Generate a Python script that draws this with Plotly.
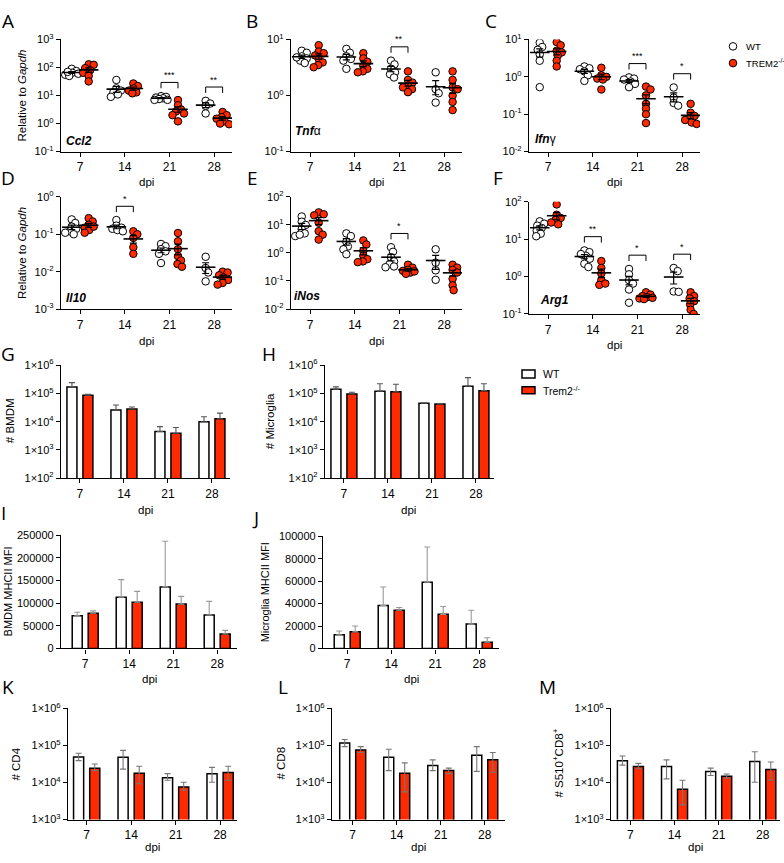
import numpy as np
import plotly.graph_objects as go

W, H = 784, 863
DPI_LABELS = ['7', '14', '21', '28']
RED = '#FF2A00'
FONT = 'Liberation Sans, Arial, sans-serif'
LFONT = 'Open Sans, sans-serif'

# ---------------- qPCR data (relative to Gapdh), per dpi group ----------------
ccl2_wt = [[90, 75, 65, 60, 55, 50, 70], [36, 18, 15, 13, 11, 9], [9.5, 9, 8.5, 8, 7.5, 7, 7], [6.5, 5.2, 4.3, 2.3]]
ccl2_ko = [[130, 125, 95, 80, 65, 50, 32], [27, 22, 18, 15, 13, 12], [6.9, 4.5, 3.2, 2.7, 2.3, 2.0, 1.2], [2.6, 2.0, 1.7, 1.5, 1.2, 1.0, 0.95]]
tnf_wt = [[6.3, 5.8, 5.0, 4.6, 4.2, 3.8, 4.8], [6.8, 5.8, 5.0, 4.5, 4.2, 3.0], [4.2, 3.6, 3.0, 2.6, 2.4, 2.1], [2.6, 1.3, 1.1, 0.75]]
tnf_ko = [[7.9, 6.1, 5.7, 5.2, 4.5, 3.9, 3.5, 3.2], [5.7, 4.6, 4.0, 3.4, 3.0, 2.7, 2.6], [2.7, 1.9, 1.7, 1.5, 1.4, 1.3, 1.15], [2.7, 1.9, 1.4, 1.3, 1.0, 0.77, 0.55]]
ifng_wt = [[8.2, 6.3, 5.3, 4.0, 2.7, 0.53], [1.9, 1.7, 1.6, 1.4, 1.1, 0.78], [0.97, 0.9, 0.85, 0.75, 0.65, 0.53], [0.52, 0.28, 0.2, 0.17]]
ifng_ko = [[8.5, 7.0, 5.0, 4.5, 3.7, 2.7, 1.9], [1.75, 1.1, 1.0, 0.9, 0.85, 0.46], [0.55, 0.46, 0.32, 0.19, 0.14, 0.1, 0.058], [0.19, 0.11, 0.09, 0.08, 0.07, 0.06, 0.055]]
il10_wt = [[0.25, 0.2, 0.16, 0.14, 0.12, 0.1, 0.11], [0.24, 0.17, 0.15, 0.14, 0.13, 0.12], [0.055, 0.048, 0.04, 0.035, 0.03, 0.017], [0.025, 0.0125, 0.0095, 0.0055]]
il10_ko = [[0.27, 0.22, 0.18, 0.15, 0.13, 0.11, 0.16], [0.12, 0.1, 0.08, 0.045, 0.03], [0.108, 0.065, 0.04, 0.026, 0.02, 0.016, 0.0135], [0.01, 0.0095, 0.008, 0.007, 0.006, 0.005, 0.0045]]
inos_wt = [[20, 13, 10, 7, 5, 4, 4.5], [5, 4, 2.5, 1.7, 1.35, 0.9], [1.6, 1.1, 0.7, 0.5, 0.4, 0.33, 0.31], [1.35, 0.45, 0.24, 0.11]]
inos_ko = [[28, 24, 22, 12, 6, 4.5, 3], [2.8, 2.0, 1.2, 0.8, 0.6, 0.5, 0.47], [0.38, 0.3, 0.25, 0.23, 0.2, 0.18, 0.22], [0.38, 0.3, 0.25, 0.2, 0.12, 0.07, 0.047]]
arg1_wt = [[30, 26, 23, 20, 17, 14, 12], [5.0, 4.5, 3.6, 3.0, 2.2, 1.8, 4.0], [1.6, 1.15, 0.8, 0.65, 0.45, 0.2], [1.7, 1.4, 0.4, 0.39]]
arg1_ko = [[85, 45, 37, 33, 25, 28], [2.6, 1.7, 1.2, 0.8, 0.6, 0.65], [0.38, 0.33, 0.3, 0.28, 0.27, 0.26, 0.25], [0.38, 0.3, 0.26, 0.22, 0.18, 0.13, 0.1]]

# significance marks: (dpi index, stars)
sig_ccl2 = [(2, '***'), (3, '**')]
sig_tnf = [(2, '**')]
sig_ifng = [(2, '***'), (3, '*')]
sig_il10 = [(1, '*')]
sig_inos = [(2, '*')]
sig_arg1 = [(1, '**'), (2, '*'), (3, '*')]

# ---------------- flow data ----------------
bmdm_wt = [1.7e5, 2.6e4, 4.5e3, 1.0e4]
bmdm_wt_err = [7e4, 1.3e4, 2.2e3, 5e3]
bmdm_ko = [8.6e4, 2.8e4, 3.9e3, 1.27e4]
bmdm_ko_err = [6e3, 5e3, 2.3e3, 7.3e3]
micro_wt = [1.4e5, 1.2e5, 4.5e4, 1.8e5]
micro_wt_err = [3e4, 1.0e5, 1.5e3, 1.8e5]
micro_ko = [9.5e4, 1.15e5, 4.2e4, 1.25e5]
micro_ko_err = [1.5e4, 9.5e4, 1.5e3, 9.5e4]
bmdm_mfi_wt = [72000, 113000, 136000, 74000]
bmdm_mfi_wt_err = [8000, 39000, 101000, 30000]
bmdm_mfi_ko = [78000, 102000, 98000, 32000]
bmdm_mfi_ko_err = [5000, 24000, 17000, 8000]
mg_mfi_wt = [12200, 38300, 59000, 21700]
mg_mfi_wt_err = [3400, 16500, 31400, 12300]
mg_mfi_ko = [14800, 34000, 30400, 5500]
mg_mfi_ko_err = [5200, 2500, 7000, 4000]

cd4_wt = [4.9e4, 4.8e4, 1.35e4, 1.74e4]
cd4_wt_hi = [6.2e4, 7.4e4, 1.74e4, 2.57e4]
cd4_wt_lo = [3.9e4, 2.3e4, 1.15e4, 1.02e4]
cd4_ko = [2.45e4, 1.78e4, 7.6e3, 1.86e4]
cd4_ko_hi = [3.16e4, 2.75e4, 1.02e4, 2.75e4]
cd4_ko_lo = [2.1e4, 9.3e3, 6.2e3, 1.15e4]
cd8_wt = [1.17e5, 4.8e4, 2.9e4, 5.5e4]
cd8_wt_hi = [1.45e5, 7.9e4, 4.1e4, 9.3e4]
cd8_wt_lo = [9.3e4, 2.1e4, 2.1e4, 2.0e4]
cd8_ko = [7.6e4, 1.78e4, 2.1e4, 4.1e4]
cd8_ko_hi = [9.3e4, 3.4e4, 2.45e4, 6.5e4]
cd8_ko_lo = [6.5e4, 5.6e3, 1.74e4, 1.9e4]
s510_wt = [3.9e4, 2.7e4, 2.0e4, 3.7e4]
s510_wt_hi = [5.2e4, 4.1e4, 2.45e4, 6.8e4]
s510_wt_lo = [2.95e4, 1.26e4, 1.55e4, 1.02e4]
s510_ko = [2.7e4, 6.6e3, 1.48e4, 2.24e4]
s510_ko_hi = [3.3e4, 1.15e4, 1.7e4, 3.6e4]
s510_ko_lo = [2.35e4, 2.5e3, 1.32e4, 1.15e4]

fig = go.Figure()
layout = {}
annotations = []
shapes = []

AX = dict(ticks='outside', ticklen=4, tickwidth=1.2, tickcolor='black', showline=True,
          linecolor='black', linewidth=1.3, showgrid=False, zeroline=False, fixedrange=True)


def sfx(n):
    return '' if n == 1 else str(n)


def base_axes(n, box, xr):
    x0, x1, yt, yb = box
    layout['xaxis' + sfx(n)] = dict(domain=[x0 / W, x1 / W], range=list(xr), anchor='y' + sfx(n),
                                    tickmode='array', tickvals=[0, 1, 2, 3], ticktext=DPI_LABELS,
                                    tickfont=dict(family=FONT, size=12, color='black'), **AX)
    layout['yaxis' + sfx(n)] = dict(domain=[1 - yb / H, 1 - yt / H], anchor='x' + sfx(n),
                                    tickfont=dict(family=FONT, size=11, color='black'), **AX)


def log_y(n, lo, hi, fmt):
    layout['yaxis' + sfx(n)].update(type='log', range=[lo, hi], tickmode='array',
                                    tickvals=[10.0 ** k for k in range(lo, hi + 1)],
                                    ticktext=[fmt.format(k) for k in range(lo, hi + 1)])


def ann(px, py, text, size=11, angle=0, xanchor='center', family=FONT):
    annotations.append(dict(x=px / W, y=1 - py / H, xref='paper', yref='paper', text=text,
                            showarrow=False, textangle=angle, xanchor=xanchor, yanchor='middle',
                            font=dict(family=family, size=size, color='black')))


def swarm(ypx, diam=5.0, lim=6.5):
    order = np.argsort(-ypx)
    placed = []
    offs = np.zeros(len(ypx))
    cands = [0.0]
    for s in np.arange(0.5, lim + 0.01, 0.5):
        cands += [s, -s]
    for i in order:
        y = ypx[i]
        best, bestd = 0.0, -1
        for c in cands:
            d = min([np.hypot(c - px, y - py) for px, py in placed] or [99])
            if d >= diam:
                best = c
                break
            if d > bestd:
                best, bestd = c, d
        placed.append((best, y))
        offs[i] = best
    return offs


OFF = 0.19


def scatter_panel(n, box, xr, yr, wt, ko, sig):
    base_axes(n, box, xr)
    log_y(n, yr[0], yr[1], '10<sup>{}</sup>')
    s = sfx(n)
    ppd = (box[3] - box[2]) / (yr[1] - yr[0])
    upx = (box[1] - box[0]) / (xr[1] - xr[0])
    for gi, (groups, fill) in enumerate([(wt, 'white'), (ko, RED)]):
        sign = -1 if gi == 0 else 1
        for i, vals in enumerate(groups):
            v = np.array(vals, float)
            jit = swarm(np.log10(v) * ppd) / upx
            cx = i + sign * OFF
            fig.add_trace(go.Scatter(x=cx + jit, y=v, mode='markers', xaxis='x' + s, yaxis='y' + s,
                                     marker=dict(size=7.5, color=fill, line=dict(color='black', width=1)),
                                     hoverinfo='skip'))
            m = v.mean()
            se = v.std(ddof=1) / np.sqrt(len(v))
            fig.add_trace(go.Scatter(x=[cx], y=[m], mode='markers', xaxis='x' + s, yaxis='y' + s,
                                     marker=dict(symbol='line-ew', size=14, color='black',
                                                 line=dict(color='black', width=1.6)),
                                     error_y=dict(type='data', array=[se], color='black', thickness=1.2, width=3.5),
                                     hoverinfo='skip'))
    for i, stars in sig:
        top = max(np.log10(wt[i]).max(), np.log10(ko[i]).max()) + 14 / ppd
        leg = top - 6 / ppd
        fig.add_trace(go.Scatter(x=[i - OFF, i - OFF, i + OFF, i + OFF],
                                 y=[10 ** leg, 10 ** top, 10 ** top, 10 ** leg],
                                 mode='lines', line=dict(color='black', width=1),
                                 xaxis='x' + s, yaxis='y' + s, hoverinfo='skip'))
        annotations.append(dict(x=i, y=top + 0.5 / ppd, xref='x' + s, yref='y' + s, text=stars,
                                showarrow=False, yanchor='bottom', font=dict(family=FONT, size=9, color='black')))


def bar_panel(n, box, xr, wt, ko, wt_up, ko_up, wt_dn=None, ko_dn=None, errcolor='#555', ylog=None, ylin=None):
    base_axes(n, box, xr)
    s = sfx(n)
    if ylog:
        log_y(n, ylog[0], ylog[1], '1×10<sup>{}</sup>')
    else:
        layout['yaxis' + s].update(range=[0, ylin[0]], tickmode='array',
                                   tickvals=list(range(0, ylin[0] + 1, ylin[1])),
                                   ticktext=[str(v) for v in range(0, ylin[0] + 1, ylin[1])])
    for vals, up, dn, fill, off in [(wt, wt_up, wt_dn, 'white', -0.295), (ko, ko_up, ko_dn, RED, 0.068)]:
        ed = dict(type='data', symmetric=False, array=up,
                  arrayminus=dn if dn is not None else [0] * len(vals),
                  color=errcolor, thickness=1.1, width=3)
        fig.add_trace(go.Bar(x=[0, 1, 2, 3], y=vals, width=0.227, offset=off, xaxis='x' + s, yaxis='y' + s,
                             marker=dict(color=fill, line=dict(color='black', width=1.5)),
                             error_y=ed, hoverinfo='skip'))


def diff(a, b):
    return [x - y for x, y in zip(a, b)]


# ---------------- scatter panels ----------------
SX = (-0.43, 3.4)
scatter_panel(1, (61, 232, 32, 146), SX, (-1, 3), ccl2_wt, ccl2_ko, sig_ccl2)
scatter_panel(2, (291, 462, 32, 146), SX, (-1, 1), tnf_wt, tnf_ko, sig_tnf)
scatter_panel(3, (529, 700, 32, 146), SX, (-2, 1), ifng_wt, ifng_ko, sig_ifng)
scatter_panel(4, (61, 232, 192, 306), SX, (-3, 0), il10_wt, il10_ko, sig_il10)
scatter_panel(5, (291, 462, 192, 306), SX, (-2, 2), inos_wt, inos_ko, sig_inos)
scatter_panel(6, (529, 700, 197, 311), SX, (-1, 2), arg1_wt, arg1_ko, sig_arg1)

# ---------------- bar panels ----------------
bar_panel(7, (61, 230, 363, 478), (-0.43, 3.41), bmdm_wt, bmdm_ko, bmdm_wt_err, bmdm_ko_err, ylog=(2, 6))
bar_panel(8, (325, 494, 363, 478), (-0.43, 3.41), micro_wt, micro_ko, micro_wt_err, micro_ko_err, ylog=(2, 6))
bar_panel(9, (61, 237, 536, 651), (-0.55, 3.45), bmdm_mfi_wt, bmdm_mfi_ko, bmdm_mfi_wt_err, bmdm_mfi_ko_err,
          errcolor='#999', ylin=(250000, 50000))
bar_panel(10, (323, 499, 537, 651), (-0.55, 3.45), mg_mfi_wt, mg_mfi_ko, mg_mfi_wt_err, mg_mfi_ko_err,
          errcolor='#999', ylin=(100000, 20000))
bar_panel(11, (68, 237, 712, 825), (-0.42, 3.38), cd4_wt, cd4_ko, diff(cd4_wt_hi, cd4_wt), diff(cd4_ko_hi, cd4_ko),
          diff(cd4_wt, cd4_wt_lo), diff(cd4_ko, cd4_ko_lo), errcolor='#777', ylog=(3, 6))
bar_panel(12, (332, 505, 712, 825), (-0.47, 3.46), cd8_wt, cd8_ko, diff(cd8_wt_hi, cd8_wt), diff(cd8_ko_hi, cd8_ko),
          diff(cd8_wt, cd8_wt_lo), diff(cd8_ko, cd8_ko_lo), errcolor='#777', ylog=(3, 6))
bar_panel(13, (611, 780, 712, 825), (-0.44, 3.39), s510_wt, s510_ko, diff(s510_wt_hi, s510_wt), diff(s510_ko_hi, s510_ko),
          diff(s510_wt, s510_wt_lo), diff(s510_ko, s510_ko_lo), errcolor='#777', ylog=(3, 6))

# ---------------- text ----------------
for L, x, y in [('A', 8, 13), ('B', 252, 13), ('C', 491, 13), ('D', 8, 173), ('E', 252, 173), ('F', 498, 173),
                ('G', 8, 352), ('H', 269, 352), ('I', 4, 513), ('J', 255, 518),
                ('K', 8, 690), ('L', 283, 690), ('M', 547, 690)]:
    ann(x, y, L, size=19, family=LFONT)

for x, y in [(146, 177), (376, 177), (614, 177), (146, 338), (376, 338), (614, 343),
             (145, 510), (409, 510), (149, 682), (411, 682), (152, 853), (418, 853), (695, 853)]:
    ann(x, y, 'dpi', size=11.5)

ann(22, 89, 'Relative to <i>Gapdh</i>', size=11.5, angle=-90)
ann(22, 249, 'Relative to <i>Gapdh</i>', size=11.5, angle=-90)
ann(10, 420, '# BMDM', size=11.5, angle=-90)
ann(270, 420, '# Microglia', size=11.5, angle=-90)
ann(8, 593, 'BMDM MHCII MFI', size=11, angle=-90)
ann(265, 594, 'Microglia MHCII MFI', size=11, angle=-90)
ann(16, 768, '# CD4', size=11.5, angle=-90)
ann(281, 768, '# CD8', size=11.5, angle=-90)
ann(558, 768, '# S510<sup>+</sup>CD8<sup>+</sup>', size=11.5, angle=-90)

ann(64, 135, '<b><i>Ccl2</i></b>', size=12, xanchor='left')
ann(293, 125, '<b><i>Tnf</i></b>α', size=12, xanchor='left')
ann(533, 133, '<b><i>Ifn</i></b>γ', size=12, xanchor='left')
ann(64, 295, '<b><i>Il10</i></b>', size=12, xanchor='left')
ann(292, 293, '<b><i>iNos</i></b>', size=12, xanchor='left')
ann(538, 297, '<b><i>Arg1</i></b>', size=12, xanchor='left')

# legends
for py, fill, txt in [(39, 'white', 'WT'), (56, RED, 'TREM2<sup>-/-</sup>')]:
    shapes.append(dict(type='circle', xref='paper', yref='paper', xsizemode='pixel', ysizemode='pixel',
                       xanchor=733 / W, yanchor=1 - py / H, x0=-3.8, x1=3.8, y0=-3.8, y1=3.8,
                       fillcolor=fill, line=dict(color='black', width=1)))
    ann(744, py, txt, size=9.5, xanchor='left')
for y0, y1, fill, txt in [(368, 376, 'white', 'WT'), (385, 392, RED, 'Trem2<sup>-/-</sup>')]:
    shapes.append(dict(type='rect', xref='paper', yref='paper', x0=522 / W, x1=535 / W,
                       y0=1 - y1 / H, y1=1 - y0 / H, fillcolor=fill, line=dict(color='black', width=1.5)))
    ann(541, (y0 + y1) / 2, txt, size=10.5, xanchor='left')

fig.update_layout(width=W, height=H, margin=dict(l=0, r=0, t=0, b=0), showlegend=False,
                  plot_bgcolor='white', paper_bgcolor='white', barmode='overlay',
                  annotations=annotations, shapes=shapes, font=dict(family=FONT, color='black'),
                  **layout)
fig.write_html('out.html', config={'displayModeBar': False},
               post_script="document.body.style.margin='0';document.body.style.padding='0';"
                           "document.body.style.overflow='hidden';")
